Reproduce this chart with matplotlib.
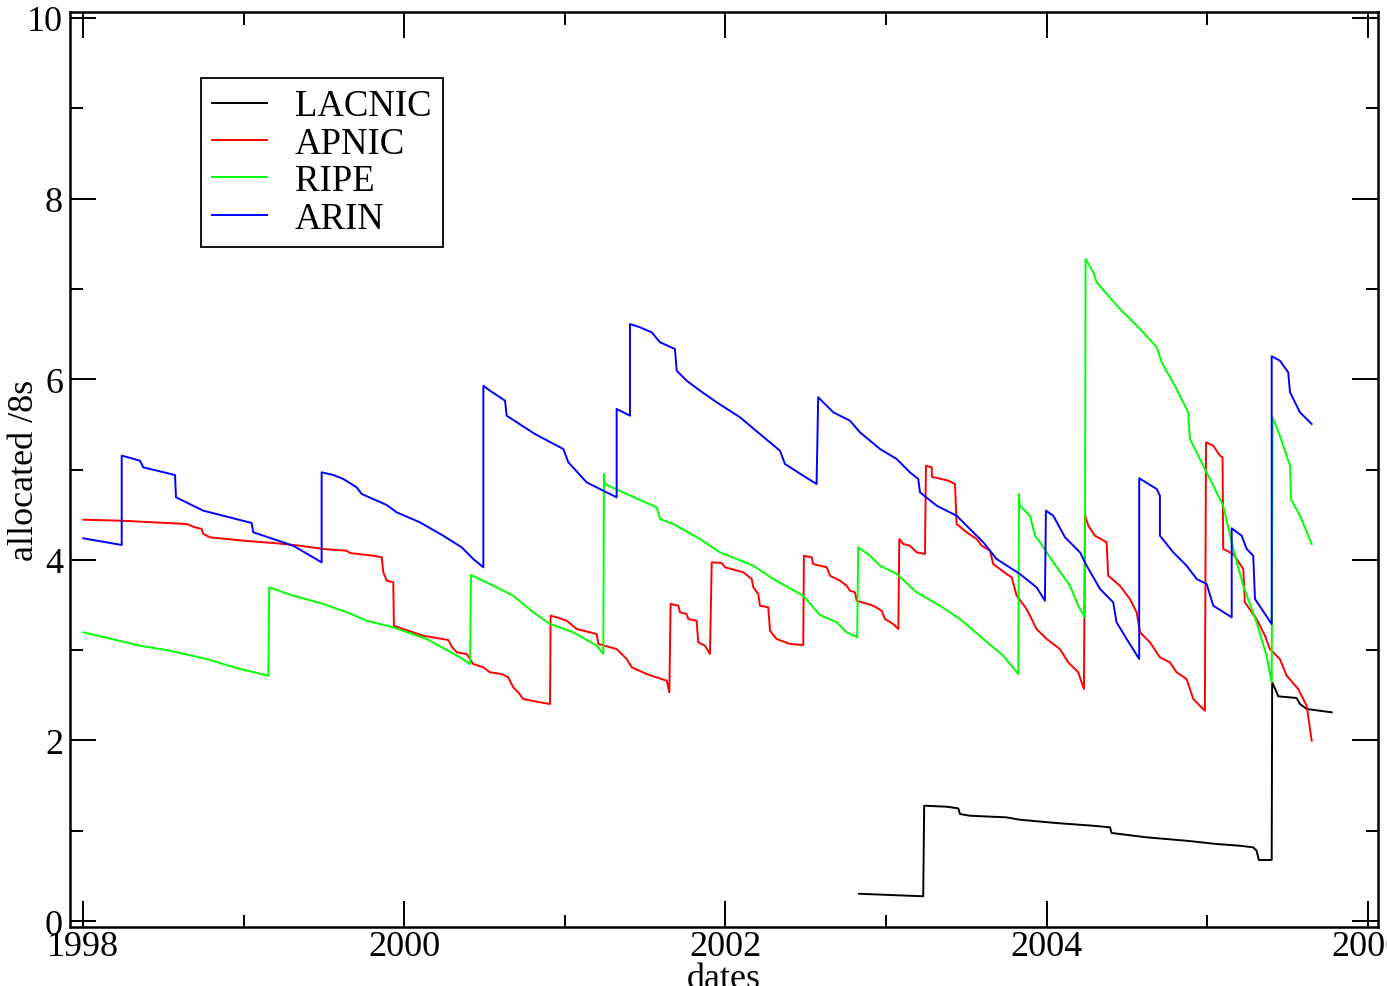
import matplotlib
matplotlib.use("Agg")
import matplotlib.pyplot as plt

plt.rcParams["font.family"] = ["Liberation Serif", "DejaVu Serif"]

# allocated /8s per registry (year, value)
lacnic_x = [2002.832, 2003.232, 2003.238, 2003.378, 2003.450, 2003.461, 2003.523,
            2003.751, 2003.834, 2004.063, 2004.291, 2004.395, 2004.405, 2004.623,
            2004.872, 2005.059, 2005.204, 2005.287, 2005.308, 2005.322, 2005.402,
            2005.405, 2005.433, 2005.443, 2005.557, 2005.578, 2005.620, 2005.776]
lacnic_y = [0.302, 0.274, 1.277, 1.266, 1.248, 1.185, 1.166, 1.148, 1.122, 1.085,
            1.055, 1.038, 0.975, 0.927, 0.889, 0.853, 0.834, 0.816, 0.779, 0.676,
            0.676, 2.643, 2.533, 2.488, 2.470, 2.403, 2.348, 2.311]

apnic_x = [1998.002, 1998.241, 1998.646, 1998.697, 1998.739, 1998.749, 1998.791,
           1998.895, 1998.998, 1999.206, 1999.351, 1999.496, 1999.642, 1999.663,
           1999.808, 1999.860, 1999.870, 1999.891, 1999.932, 1999.936, 1999.994,
           2000.119, 2000.275, 2000.296, 2000.327, 2000.389, 2000.430, 2000.493,
           2000.534, 2000.607, 2000.648, 2000.679, 2000.710, 2000.742, 2000.846,
           2000.908, 2000.912, 2000.950, 2001.012, 2001.074, 2001.199, 2001.209,
           2001.323, 2001.386, 2001.417, 2001.510, 2001.635, 2001.651, 2001.659,
           2001.707, 2001.717, 2001.759, 2001.769, 2001.821, 2001.831, 2001.873,
           2001.904, 2001.915, 2001.977, 2001.998, 2002.112, 2002.164, 2002.174,
           2002.205, 2002.215, 2002.267, 2002.278, 2002.319, 2002.402, 2002.485,
           2002.489, 2002.537, 2002.547, 2002.631, 2002.651, 2002.714, 2002.755,
           2002.776, 2002.807, 2002.818, 2002.921, 2002.973, 2002.994, 2003.045,
           2003.077, 2003.083, 2003.108, 2003.149, 2003.191, 2003.243, 2003.249,
           2003.285, 2003.286, 2003.388, 2003.430, 2003.440, 2003.502, 2003.565,
           2003.596, 2003.648, 2003.668, 2003.751, 2003.783, 2003.814, 2003.876,
           2003.938, 2004.001, 2004.083, 2004.135, 2004.197, 2004.233, 2004.239,
           2004.260, 2004.301, 2004.374, 2004.384, 2004.457, 2004.519, 2004.561,
           2004.582, 2004.644, 2004.706, 2004.768, 2004.810, 2004.872, 2004.914,
           2004.986, 2004.993, 2005.038, 2005.080, 2005.096, 2005.100, 2005.163,
           2005.225, 2005.235, 2005.308, 2005.360, 2005.391, 2005.453, 2005.495,
           2005.567, 2005.620, 2005.651]
apnic_y = [4.444, 4.433, 4.396, 4.360, 4.341, 4.286, 4.249, 4.230, 4.212, 4.183,
           4.156, 4.120, 4.101, 4.075, 4.045, 4.028, 3.862, 3.769, 3.751, 3.270,
           3.234, 3.159, 3.112, 3.040, 2.976, 2.957, 2.846, 2.810, 2.754, 2.735,
           2.699, 2.588, 2.533, 2.458, 2.422, 2.403, 3.381, 3.363, 3.326, 3.234,
           3.178, 3.068, 3.012, 2.901, 2.810, 2.735, 2.661, 2.533, 3.511, 3.492,
           3.419, 3.400, 3.344, 3.326, 3.086, 3.049, 2.957, 3.972, 3.965, 3.917,
           3.862, 3.787, 3.695, 3.621, 3.492, 3.474, 3.215, 3.123, 3.068, 3.056,
           4.045, 4.028, 3.953, 3.917, 3.824, 3.769, 3.713, 3.658, 3.640, 3.547,
           3.492, 3.436, 3.344, 3.289, 3.234, 4.230, 4.175, 4.156, 4.083, 4.064,
           5.042, 5.024, 4.920, 4.876, 4.839, 4.396, 4.305, 4.230, 4.156, 4.101,
           3.953, 3.843, 3.806, 3.602, 3.455, 3.234, 3.123, 3.012, 2.865, 2.754,
           2.569, 4.496, 4.378, 4.267, 4.194, 3.824, 3.713, 3.566, 3.419, 3.197,
           3.086, 2.920, 2.865, 2.754, 2.680, 2.458, 2.329, 5.301, 5.264, 5.153,
           5.135, 4.120, 4.064, 3.898, 3.529, 3.344, 3.159, 3.012, 2.901, 2.717,
           2.569, 2.384, 1.997]

ripe_x = [1998.002, 1998.355, 1998.542, 1998.770, 1998.978, 1999.154, 1999.160,
          1999.309, 1999.496, 1999.642, 1999.766, 1999.932, 2000.140, 2000.347,
          2000.410, 2000.416, 2000.555, 2000.679, 2000.804, 2000.908, 2001.053,
          2001.199, 2001.240, 2001.244, 2001.250, 2001.385, 2001.572, 2001.593,
          2001.676, 2001.842, 2001.966, 2002.174, 2002.298, 2002.485, 2002.589,
          2002.693, 2002.755, 2002.821, 2002.827, 2002.900, 2002.963, 2003.067,
          2003.191, 2003.336, 2003.461, 2003.606, 2003.730, 2003.824, 2003.828,
          2003.834, 2003.897, 2003.928, 2003.959, 2004.042, 2004.146, 2004.197,
          2004.239, 2004.243, 2004.291, 2004.312, 2004.457, 2004.582, 2004.686,
          2004.717, 2004.810, 2004.882, 2004.893, 2004.976, 2005.100, 2005.163,
          2005.225, 2005.308, 2005.370, 2005.402, 2005.408, 2005.453, 2005.516,
          2005.522, 2005.578, 2005.651]
ripe_y = [3.197, 3.049, 2.993, 2.901, 2.791, 2.717, 3.695, 3.602, 3.511, 3.419,
          3.326, 3.252, 3.123, 2.920, 2.846, 3.832, 3.713, 3.602, 3.419, 3.289,
          3.197, 3.049, 2.957, 4.950, 4.839, 4.729, 4.581, 4.452, 4.396, 4.230,
          4.083, 3.935, 3.787, 3.602, 3.389, 3.308, 3.197, 3.142, 4.138, 4.045,
          3.935, 3.843, 3.640, 3.492, 3.344, 3.123, 2.938, 2.735, 4.729, 4.599,
          4.488, 4.267, 4.194, 3.972, 3.713, 3.492, 3.363, 7.331, 7.184, 7.073,
          6.777, 6.556, 6.353, 6.187, 5.891, 5.633, 5.338, 5.042, 4.599, 4.120,
          3.713, 3.308, 2.938, 2.643, 5.578, 5.374, 5.042, 4.673, 4.488, 4.175]

arin_x = [1998.002, 1998.241, 1998.241, 1998.303, 1998.355, 1998.375, 1998.573,
          1998.579, 1998.749, 1999.050, 1999.060, 1999.309, 1999.486, 1999.486,
          1999.559, 1999.621, 1999.704, 1999.735, 1999.891, 1999.953, 2000.098,
          2000.243, 2000.358, 2000.430, 2000.493, 2000.493, 2000.534, 2000.628,
          2000.638, 2000.814, 2000.991, 2001.022, 2001.136, 2001.240, 2001.323,
          2001.323, 2001.406, 2001.406, 2001.468, 2001.541, 2001.593, 2001.686,
          2001.697, 2001.759, 2001.842, 2001.946, 2002.091, 2002.215, 2002.340,
          2002.371, 2002.485, 2002.568, 2002.578, 2002.672, 2002.776, 2002.838,
          2002.963, 2003.067, 2003.149, 2003.201, 2003.212, 2003.316, 2003.440,
          2003.523, 2003.606, 2003.689, 2003.834, 2003.938, 2003.990, 2003.996,
          2004.042, 2004.115, 2004.208, 2004.250, 2004.333, 2004.415, 2004.436,
          2004.499, 2004.577, 2004.577, 2004.686, 2004.706, 2004.706, 2004.789,
          2004.872, 2004.935, 2004.997, 2005.038, 2005.153, 2005.153, 2005.215,
          2005.246, 2005.287, 2005.298, 2005.402, 2005.402, 2005.453, 2005.505,
          2005.516, 2005.578, 2005.651]
arin_y = [4.238, 4.164, 5.153, 5.124, 5.097, 5.024, 4.939, 4.692, 4.544, 4.408,
          4.305, 4.156, 3.972, 4.969, 4.939, 4.895, 4.803, 4.729, 4.607, 4.526,
          4.415, 4.267, 4.138, 4.009, 3.917, 5.928, 5.873, 5.762, 5.596, 5.393,
          5.227, 5.080, 4.858, 4.765, 4.692, 5.670, 5.596, 6.611, 6.575, 6.519,
          6.409, 6.334, 6.094, 5.983, 5.873, 5.744, 5.578, 5.393, 5.208, 5.061,
          4.931, 4.839, 5.800, 5.633, 5.540, 5.412, 5.227, 5.116, 4.969, 4.895,
          4.747, 4.599, 4.488, 4.341, 4.194, 4.009, 3.843, 3.695, 3.547, 4.544,
          4.488, 4.249, 4.083, 3.935, 3.677, 3.529, 3.308, 3.123, 2.901, 4.903,
          4.784, 4.710, 4.267, 4.083, 3.935, 3.787, 3.732, 3.492, 3.363, 4.349,
          4.267, 4.120, 4.045, 3.566, 3.289, 6.254, 6.205, 6.076, 5.855, 5.633,
          5.504]

series = [("LACNIC", lacnic_x, lacnic_y, "#000000"),
          ("APNIC", apnic_x, apnic_y, "#ff0000"),
          ("RIPE", ripe_x, ripe_y, "#00ff00"),
          ("ARIN", arin_x, arin_y, "#0000ff")]

x_major = [1998, 2000, 2002, 2004, 2006]
x_minor = [1999, 2001, 2003, 2005]
y_major = [0, 2, 4, 6, 8, 10]
y_minor = [1, 3, 5, 7, 9]

W, H = 1387, 987
fig = plt.figure(figsize=(W / 100, H / 100), dpi=100)
fig.patch.set_facecolor("white")
ax = fig.add_axes([70 / W, (H - 928) / H, 1308 / W, 915 / H])

for name, xs, ys, color in series:
    ax.plot(xs, ys, color=color, linewidth=1.4, label=name)

ax.set_xlim(1997.919, 2006.064)
ax.set_ylim(-0.066, 10.066)
ax.set_xticks(x_major)
ax.set_xticks(x_minor, minor=True)
ax.set_yticks(y_major)
ax.set_yticks(y_minor, minor=True)
ax.set_xticklabels([str(v) for v in x_major])
ax.set_yticklabels([str(v) for v in y_major])

for s in ax.spines.values():
    s.set_linewidth(1.8)
ax.tick_params(which="both", direction="in", top=True, right=True, width=1.4,
               labelsize=26)
ax.tick_params(which="major", length=18.5)
ax.tick_params(which="minor", length=9)
ax.tick_params(axis="x", pad=2)
ax.tick_params(axis="y", pad=5)

ax.set_xlabel("dates", fontsize=26)
ax.set_ylabel("allocated /8s", fontsize=26)
ax.xaxis.set_label_coords(0.5, -0.0386)
ax.yaxis.set_label_coords(-0.022, 0.5)

leg = ax.legend(loc="upper left", bbox_to_anchor=(0.1002, 0.928), fontsize=26.5,
                frameon=True, fancybox=False, framealpha=1, edgecolor="black",
                borderpad=0.3, labelspacing=0.08, handlelength=1.5,
                handletextpad=0.75, borderaxespad=0)
leg.get_frame().set_linewidth(1.3)

fig.savefig("out.png", dpi=100, facecolor="white")
